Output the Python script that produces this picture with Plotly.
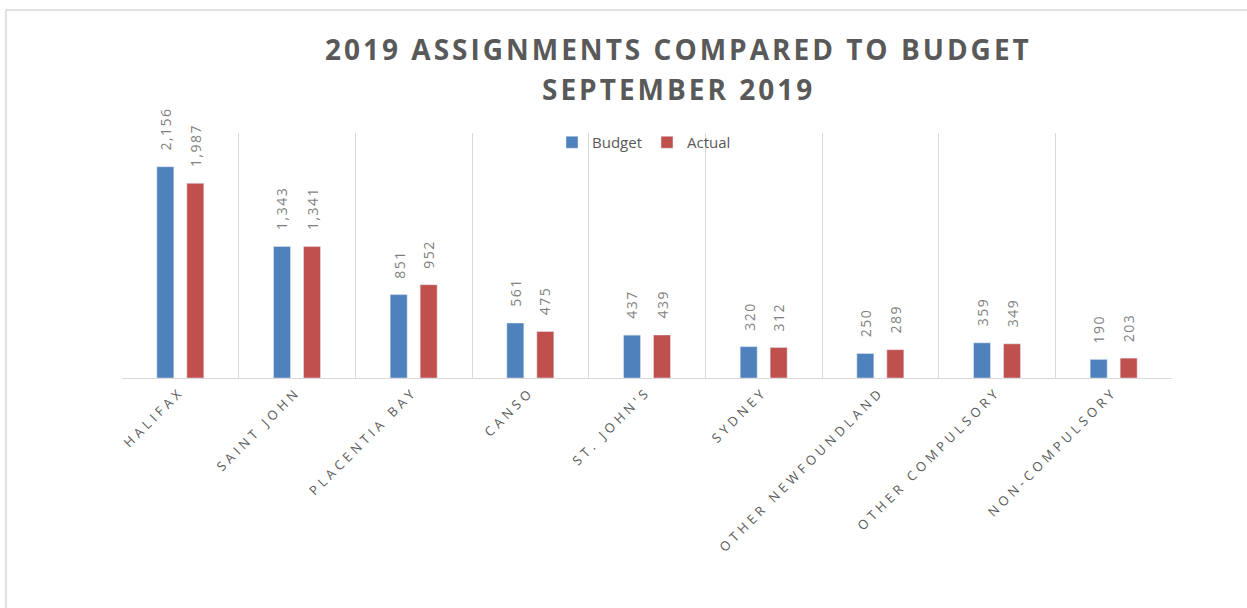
import plotly.graph_objects as go

categories = ["HALIFAX", "SAINT JOHN", "PLACENTIA BAY", "CANSO", "ST. JOHN'S",
              "SYDNEY", "OTHER NEWFOUNDLAND", "OTHER COMPULSORY", "NON-COMPULSORY"]
budget = [2156, 1343, 851, 561, 437, 320, 250, 359, 190]
actual = [1987, 1341, 952, 475, 439, 312, 289, 349, 203]
title_line1 = "2019 ASSIGNMENTS COMPARED TO BUDGET"
title_line2 = "SEPTEMBER 2019"

BLUE = "#4F81BD"
RED = "#C0504D"
TXT = "#595959"
GRID = "#D9D9D9"
FONT = "Open Sans, sans-serif"

W, H = 1247, 608
pl, pr, pt, pb = 122, 75, 133, 230
pw, ph = W - pl - pr, H - pt - pb


def px_x(px):
    return (px - pl) / pw


def px_y(py):
    return (H - pb - py) / ph


fig = go.Figure()
fig.add_trace(go.Bar(x=categories, y=budget, name="Budget", marker_color=BLUE))
fig.add_trace(go.Bar(x=categories, y=actual, name="Actual", marker_color=RED))

annotations = []
for series, shift in ((budget, -15), (actual, 15)):
    for c, v in zip(categories, series):
        annotations.append(dict(
            x=c, y=v, xref="x", yref="y",
            text=f'<span style="letter-spacing:1.5px">{v:,}</span>',
            showarrow=False, textangle=-90, xshift=shift, yshift=14,
            yanchor="bottom", xanchor="center",
            font=dict(family=FONT, size=14, color="#7F7F7F")))

for txt, ypx in ((title_line1, 49), (title_line2, 89)):
    annotations.append(dict(
        x=px_x(678), y=px_y(ypx), xref="paper", yref="paper",
        xanchor="center", yanchor="middle", showarrow=False,
        text=f'<span style="letter-spacing:3px"><b>{txt}</b></span>',
        font=dict(family=FONT, size=28, color=TXT)))

ticktext = [f'<span style="letter-spacing:4px">{c}</span>' for c in categories]

fig.update_layout(
    width=W, height=H,
    margin=dict(l=pl, r=pr, t=pt, b=pb),
    paper_bgcolor="white", plot_bgcolor="white",
    barmode="group", bargap=0.486, bargroupgap=0.433,
    showlegend=True,
    legend=dict(orientation="h", x=px_x(644), xanchor="center",
                y=px_y(126), yanchor="top", bgcolor="rgba(0,0,0,0)",
                font=dict(family=FONT, size=15, color=TXT),
                itemwidth=30, tracegroupgap=0),
    annotations=annotations,
    font=dict(family=FONT, color=TXT),
)
fig.update_xaxes(type="category", tickvals=categories, ticktext=ticktext,
                 tickangle=-45, tickson="boundaries", ticks="",
                 showgrid=True, gridcolor=GRID, gridwidth=1,
                 showline=True, linecolor=GRID, linewidth=1,
                 tickfont=dict(family=FONT, size=13, color=TXT))
fig.update_yaxes(range=[0, 2500], showticklabels=False, showgrid=False,
                 zeroline=False, showline=False)

# outer chart border
fig.add_shape(type="rect", xref="paper", yref="paper",
              x0=px_x(6), x1=px_x(1265), y0=px_y(625), y1=px_y(10),
              line=dict(color=GRID, width=1.5), fillcolor="rgba(0,0,0,0)", layer="below")

fig.write_html("out.html", config={"displayModeBar": False},
               post_script="document.body.style.margin='0';")
